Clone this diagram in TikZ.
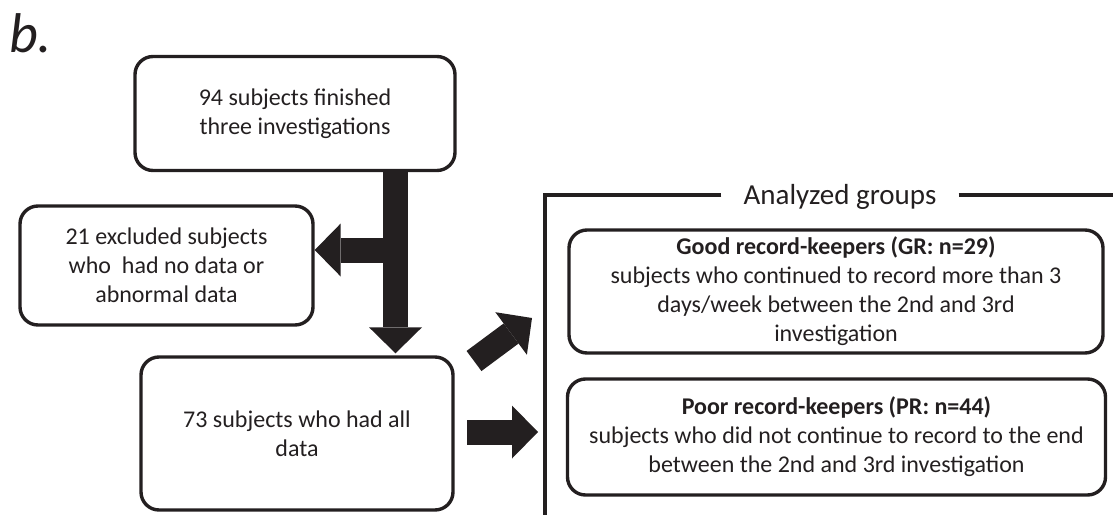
\documentclass[tikz,border=0pt]{standalone}
\usepackage{fontspec}
\setmainfont{Carlito}
\usetikzlibrary{arrows.meta,positioning,calc}
\definecolor{ink}{RGB}{35,31,32}
\tikzset{
  box/.style={draw=ink,line width=3.4pt,rounded corners=18pt,align=center,text=ink,inner sep=0pt},
  fat/.style={draw=ink,line width=25pt,-{Triangle[length=26pt,width=53pt,line width=0pt]}},
  frame/.style={draw=ink,line width=4.5pt},
}

\begin{document}
\begin{tikzpicture}[x=1pt,y=-1pt,font=\fontsize{24}{29}\selectfont]
\useasboundingbox (0,0) rectangle (1113,514);
\node[anchor=base west,font=\fontsize{56}{56}\selectfont\itshape,text=ink,inner sep=0pt] (tag) at (9,52) {b.};
% flow
\node[box,minimum width=320pt,minimum height=114pt] (fin) at (295,113.5) {94 subjects finished\\three investigations};
\node[box,minimum width=293pt,minimum height=119pt] (excl) at (166.5,265.5) {21 excluded subjects\\who~ had no data or\\abnormal data};
\node[box,minimum width=312pt,minimum height=153pt] (all) at (297,433.5) {73 subjects who had all\\data};
% groups
\node[text=ink,font=\fontsize{29}{35}\selectfont,inner xsep=22pt,inner ysep=0pt] (grp) at (840,197) {Analyzed groups};
\node[box,minimum width=534pt,minimum height=123pt] (gr) at (836,291.5) {\textbf{Good record-keepers (GR: n=29)}\\subjects who continued to record more than 3\\days/week between the 2nd and 3rd\\investigation};
\node[box,minimum width=538pt,minimum height=116pt] (pr) at (836.5,437) {\textbf{Poor record-keepers (PR: n=44)}\\subjects who did not continue to record to the end\\between the 2nd and 3rd investigation};
\coordinate (corner) at (545,195);
\coordinate (fbot) at (545,516);
\coordinate (fend) at (1115,195);
\draw[frame] (grp.west |- corner) -- (corner) -- (fbot);
\draw[frame] (grp.east |- corner) -- (fend);
% arrows
\coordinate (trunk) at ([xshift=100.5pt]fin.south);
\coordinate (split) at (395.5,250);
\coordinate (d0) at (474,361);
\coordinate (d1) at (532,318);
\coordinate (r0) at (467,432);
\coordinate (r1) at (538,432);
\draw[fat,shorten >=2pt] (trunk) -- (trunk |- all.north);
\draw[fat] (split) -- (excl.east |- split);
\draw[fat] (d0) -- (d1);
\draw[fat] (r0) -- (r1);
\end{tikzpicture}
\end{document}
